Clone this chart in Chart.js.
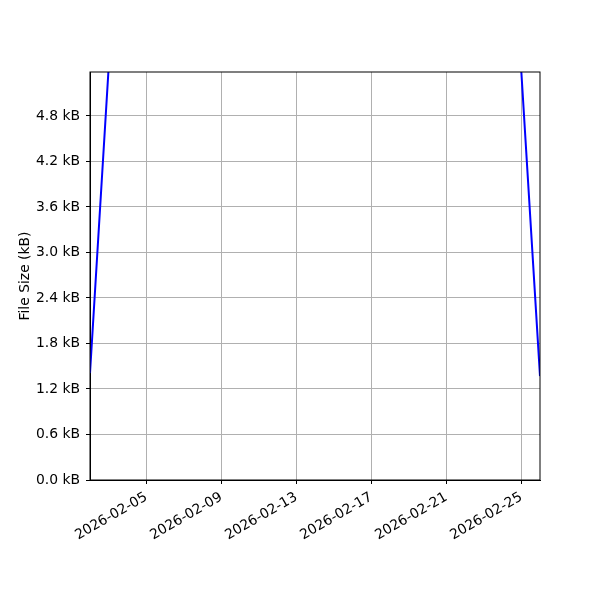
<!DOCTYPE html>
<html>
<head>
<meta charset="utf-8">
<script src="https://cdn.jsdelivr.net/npm/chart.js@4"></script>
<style>
  html, body { margin: 0; padding: 0; background: #fff; }
  #wrap { width: 600px; height: 600px; }
</style>
</head>
<body>
<div id="wrap"><canvas id="chart"></canvas></div>
<script>
// day of February 2026 for each sample
const days = [2, 3, 4, 5, 6, 7, 8, 9, 10, 11, 12, 13, 14, 15, 16, 17, 18, 19, 20, 21, 22, 23, 24, 25, 26];
// file size in kB (middle values sit above the visible range)
const sizes = [1.41, 5.46, 6.2, 6.9, 7.4, 7.8, 8.1, 8.3, 8.6, 8.8, 9.0, 9.1, 9.2, 9.0, 8.9, 8.7, 8.4, 8.0, 7.6, 7.1, 6.6, 6.1, 5.7, 5.40, 1.37];
const xTicks = [5, 9, 13, 17, 21, 25];
const yTicks = [0, 0.6, 1.2, 1.8, 2.4, 3.0, 3.6, 4.2, 4.8];

Chart.defaults.font.family = 'DejaVu Sans';
Chart.defaults.font.size = 13.9;
Chart.defaults.color = '#000';

const frame = {
    id: 'frame',
    afterDraw(chart) {
        const { ctx, chartArea: a } = chart;
        ctx.save();
        ctx.strokeStyle = '#000';
        ctx.lineWidth = 1;
        ctx.strokeRect(a.left, a.top, a.right - a.left, a.bottom - a.top);
        ctx.restore();
    }
};

const ctx = document.getElementById('chart').getContext('2d');
new Chart(ctx, {
    type: 'line',
    data: {
        datasets: [{
            data: days.map((d, i) => ({ x: d, y: sizes[i] })),
            borderColor: '#0000ff',
            borderWidth: 2,
            pointRadius: 0,
            tension: 0,
        }],
    },
    options: {
        responsive: true,
        maintainAspectRatio: false,
        animation: false,
        layout: { padding: { left: 13, top: 72, right: 60, bottom: 0 } },
        plugins: { legend: { display: false }, tooltip: { enabled: false } },
        scales: {
            x: {
                type: 'linear',
                min: 2,
                max: 26,
                afterBuildTicks: (s) => { s.ticks = xTicks.map(v => ({ value: v })); },
                afterFit: (s) => { s.height = 120; },
                grid: { color: '#b0b0b0', tickColor: '#000', tickLength: 4 },
                border: { color: '#000' },
                ticks: {
                    minRotation: 30,
                    maxRotation: 30,
                    padding: 5,
                    callback: (v) => '2026-02-' + String(v).padStart(2, '0'),
                },
            },
            y: {
                min: 0,
                max: 5.38,
                afterBuildTicks: (s) => { s.ticks = yTicks.map(v => ({ value: v })); },
                afterFit: (s) => { s.width = 77; },
                grid: { color: '#b0b0b0', tickColor: '#000', tickLength: 4 },
                border: { color: '#000' },
                ticks: {
                    padding: 6,
                    callback: (v) => v.toFixed(1) + ' kB',
                },
                title: { display: true, text: 'File Size (kB)', font: { size: 13.9 } },
            },
        },
    },
    plugins: [frame],
});
</script>
</body>
</html>
